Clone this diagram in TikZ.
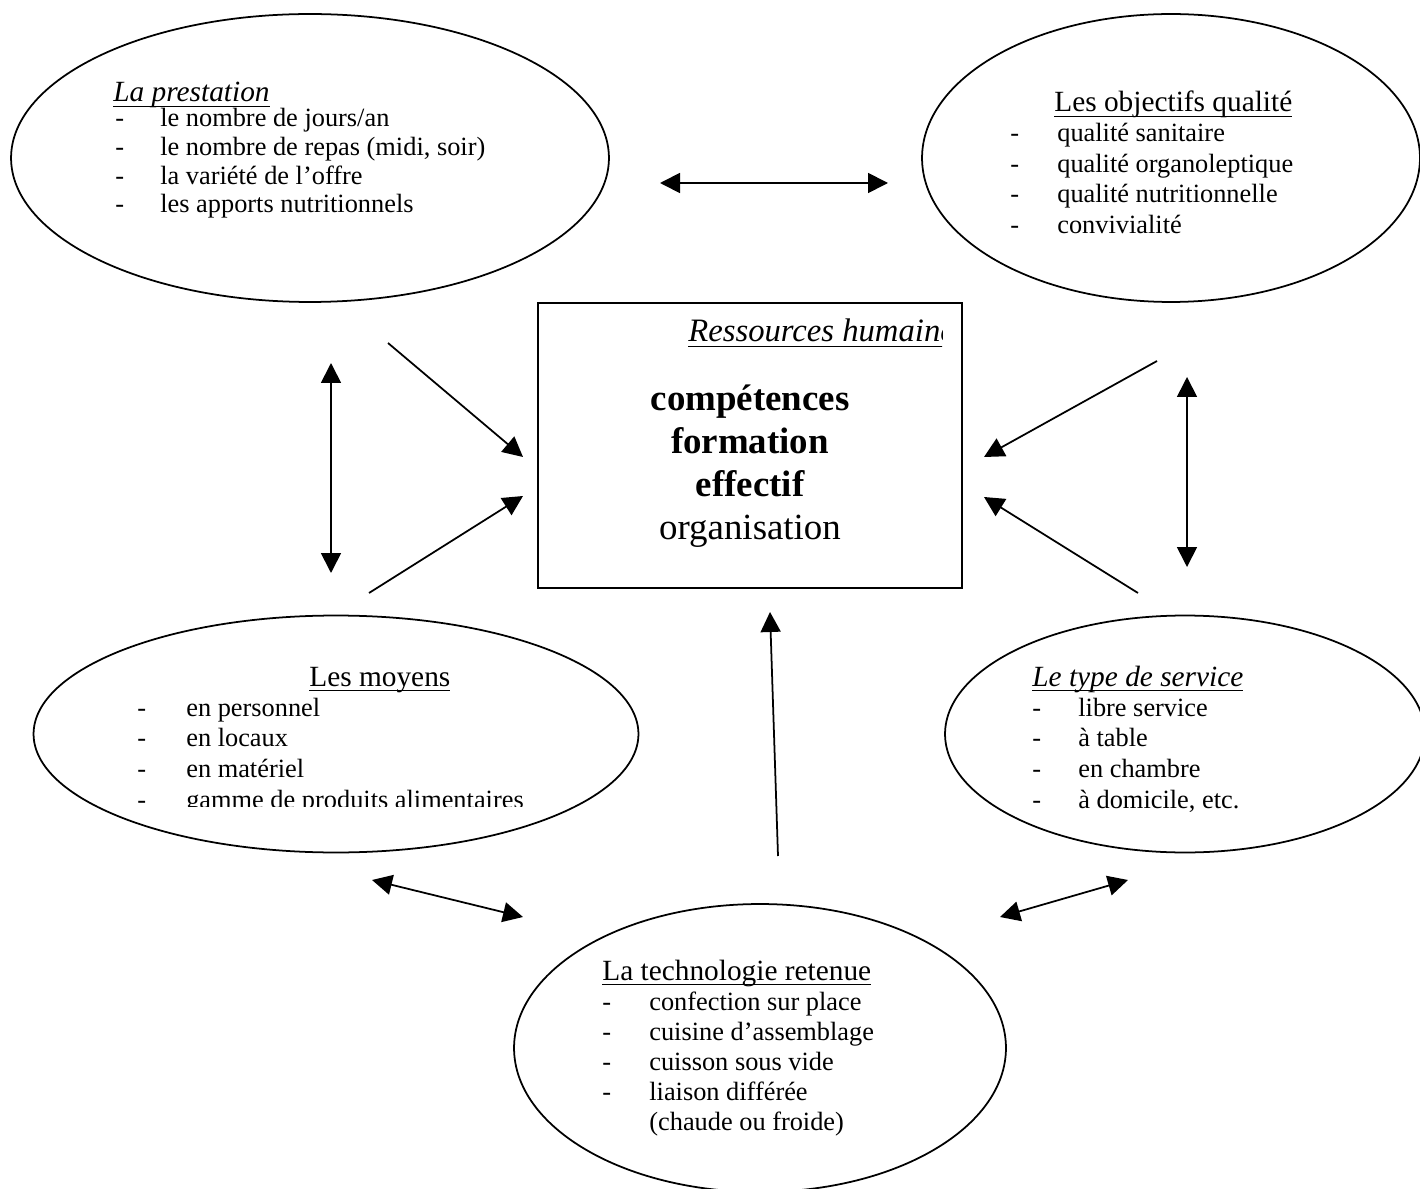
\documentclass[tikz,border=0pt]{standalone}
\usepackage{fontspec}
\setmainfont{Liberation Serif}
\usetikzlibrary{shapes.geometric,arrows.meta}

\newsavebox\soulbox
\newcommand{\souligne}[1]{\sbox\soulbox{#1}\rlap{\rule[-3pt]{\wd\soulbox}{1pt}}\usebox\soulbox}

\tikzset{
  bulle/.style={draw,ellipse,line width=1pt,inner sep=0pt,outer sep=0pt},
  titre/.style={anchor=base west,inner sep=0pt,font=\fontsize{16.7}{19}\selectfont},
  liste/.style={anchor=base west,inner sep=0pt,font=\fontsize{15}{17.1}\selectfont},
  aller/.style={-{Triangle[length=0.4cm,width=0.4cm]},line width=1pt},
  allerretour/.style={{Triangle[length=0.4cm,width=0.4cm]}-{Triangle[length=0.4cm,width=0.4cm]},line width=1pt}
}

\begin{document}
\begin{tikzpicture}[x=0.02cm,y=-0.02cm]
\clip (0,0) rectangle (1420,1189);

% les bulles et le cadre
\node[bulle,minimum width=11.96cm,minimum height=5.76cm] (prest) at (310,158) {};
\node[bulle,minimum width=9.96cm,minimum height=5.76cm] (objectifs) at (1171,158) {};
\node[bulle,minimum width=12.1cm,minimum height=4.74cm] (moyens) at (336,734) {};
\node[bulle,minimum width=9.6cm,minimum height=4.74cm] (service) at (1185,734) {};
\node[bulle,minimum width=9.84cm,minimum height=5.76cm] (techno) at (760,1048) {};
\node[draw,line width=1pt,inner sep=0pt,minimum width=8.48cm,minimum height=5.7cm] (rh) at (750,445.5) {};

% La prestation
\node[titre] (prest-t) at (113,102) {\souligne{\itshape La prestation}};
\node[liste,font=\fontsize{15}{16.3}\selectfont] (prest-l) at (115,127) {\begin{tabular}[t]{@{}p{0.9cm}@{}l@{}}
- & le nombre de jours/an\\
- & le nombre de repas (midi, soir)\\
- & la variété de l’offre\\
- & les apports nutritionnels
\end{tabular}};

% Les objectifs qualite
\node[titre] (objectifs-t) at (1054,112) {\souligne{Les objectifs qualité}};
\node[liste,font=\fontsize{15}{17.3}\selectfont] (objectifs-l) at (1010,142) {\begin{tabular}[t]{@{}p{0.94cm}@{}l@{}}
- & qualité sanitaire\\
- & qualité organoleptique\\
- & qualité nutritionnelle\\
- & convivialité
\end{tabular}};

% Ressources humaines
\begin{scope}
\clip (538,300) rectangle (942,400);
\node[anchor=base west,inner sep=0pt,font=\fontsize{18.6}{21}\selectfont] (rh-t) at (688,342) {\souligne{\itshape Ressources humaines}};
\end{scope}
\node[anchor=base,inner sep=0pt,font=\fontsize{21}{24.3}\selectfont\bfseries] (rh-l) at (750,411) {\begin{tabular}[t]{@{}c@{}}
compétences\\
formation\\
effectif\\
\mdseries organisation
\end{tabular}};

% Les moyens
\node[titre] (moyens-t) at (309,686) {\souligne{Les moyens}};
\begin{scope}
\clip (0,600) rectangle (700,806);
\node[liste,font=\fontsize{15}{17.6}\selectfont] (moyens-l) at (137,716) {\begin{tabular}[t]{@{}p{0.98cm}@{}l@{}}
- & en personnel\\
- & en locaux\\
- & en matériel\\
- & gamme de produits alimentaires
\end{tabular}};
\end{scope}

% Le type de service
\node[titre] (service-t) at (1032,686) {\souligne{\itshape Le type de service}};
\node[liste,font=\fontsize{15}{17.6}\selectfont] (service-l) at (1032,716) {\begin{tabular}[t]{@{}p{0.92cm}@{}l@{}}
- & libre service\\
- & à table\\
- & en chambre\\
- & à domicile, etc.
\end{tabular}};

% La technologie retenue
\node[titre] (techno-t) at (602,980) {\souligne{La technologie retenue}};
\node[liste] (techno-l) at (602,1010) {\begin{tabular}[t]{@{}p{0.94cm}@{}l@{}}
- & confection sur place\\
- & cuisine d’assemblage\\
- & cuisson sous vide\\
- & liaison différée\\
  & (chaude ou froide)
\end{tabular}};

% les fleches
\coordinate (h1) at (660,183);
\coordinate (h2) at (888,183);
\coordinate (g1) at (331,363);
\coordinate (g2) at (331,573);
\coordinate (d1) at (1187,377);
\coordinate (d2) at (1187,567);
\coordinate (pg1) at (388,343);
\coordinate (pg2) at (523,457);
\coordinate (mg1) at (369,593);
\coordinate (mg2) at (523,496);
\coordinate (od1) at (1157,361);
\coordinate (od2) at (984,457);
\coordinate (sd1) at (1138,593);
\coordinate (sd2) at (984,497);
\coordinate (t1) at (778,856);
\coordinate (t2) at (770,612);
\coordinate (bg1) at (372,880);
\coordinate (bg2) at (523,917);
\coordinate (bd1) at (1000,917);
\coordinate (bd2) at (1128,880);

\draw[allerretour] (h1) -- (h2);
\draw[allerretour] (g1) -- (g2);
\draw[allerretour] (d1) -- (d2);
\draw[aller] (pg1) -- (pg2);
\draw[aller] (mg1) -- (mg2);
\draw[aller] (od1) -- (od2);
\draw[aller] (sd1) -- (sd2);
\draw[aller] (t1) -- (t2);
\draw[allerretour] (bg1) -- (bg2);
\draw[allerretour] (bd1) -- (bd2);
\end{tikzpicture}
\end{document}
